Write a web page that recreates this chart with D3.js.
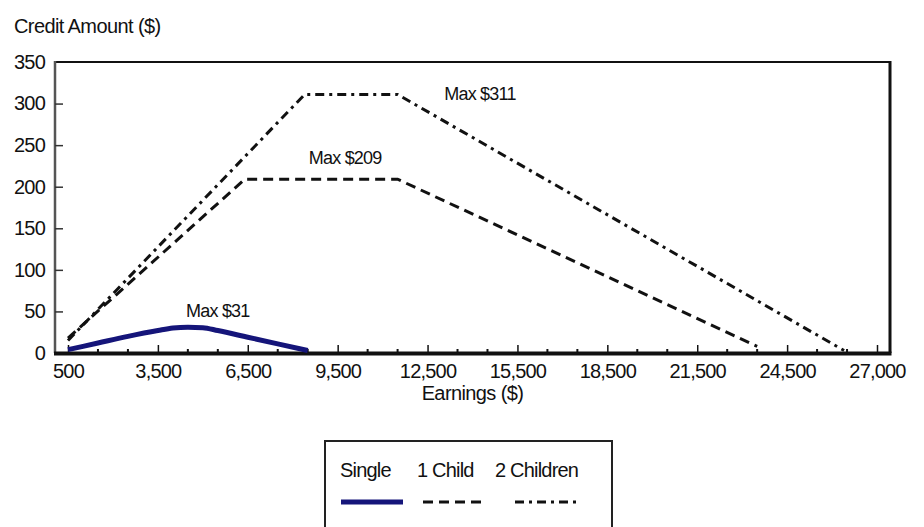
<!DOCTYPE html>
<html>
<head>
<meta charset="utf-8">
<script src="https://cdn.jsdelivr.net/npm/d3@7"></script>
<style>
  body { margin: 0; background: #fff; }
  text { font-family: "Liberation Sans", Arial, sans-serif; fill: #111; }
</style>
</head>
<body>
<svg width="924" height="527"></svg>
<script>
// earnings ($) and credit amount ($)
const singleX = [500, 1500, 2500, 3500, 4000, 4500, 5000, 5500, 6500, 7500, 8500];
const singleY = [4, 12, 20, 27, 30, 31, 30.5, 27, 19, 11, 3];
const oneChildX = [500, 6400, 11500, 23500];
const oneChildY = [18, 209, 209, 8];
const twoChildX = [500, 8400, 11500, 26400];
const twoChildY = [15, 311, 311, 3];

const xTicks = [500, 3500, 6500, 9500, 12500, 15500, 18500, 21500, 24500, 27500];
const xTickLabels = ["500", "3,500", "6,500", "9,500", "12,500", "15,500", "18,500", "21,500", "24,500", "27,000"];
const yTicks = [0, 50, 100, 150, 200, 250, 300, 350];

const seriesNames = ["Single", "1 Child", "2 Children"];
const maxLabels = [
    { text: "Max $31", x: 5500, y: 43 },
    { text: "Max $209", x: 9750, y: 227 },
    { text: "Max $311", x: 14250, y: 304 }
];

const svg = d3.select("svg");
const plotLeft = 55, plotRight = 890, plotTop = 62, plotBottom = 353;

const x = d3.scaleLinear().domain([500, 27500]).range([68, 877]);
const y = d3.scaleLinear().domain([0, 350]).range([plotBottom, plotTop]);

// frame
svg.append("line").attr("x1", plotLeft).attr("x2", plotRight).attr("y1", plotTop).attr("y2", plotTop)
    .attr("stroke", "#111").attr("stroke-width", 2);
svg.append("line").attr("x1", plotRight).attr("x2", plotRight).attr("y1", plotTop - 1).attr("y2", plotBottom)
    .attr("stroke", "#111").attr("stroke-width", 3);
svg.append("line").attr("x1", plotLeft).attr("x2", plotLeft).attr("y1", plotTop - 1).attr("y2", plotBottom)
    .attr("stroke", "#555").attr("stroke-width", 2.5);

// minor x ticks every 1000
const minor = d3.range(1500, 27500, 1000).filter(v => (v - 500) % 3000 !== 0);
svg.append("g").selectAll("line").data(minor).enter().append("line")
    .attr("x1", d => x(d)).attr("x2", d => x(d))
    .attr("y1", plotBottom - 4).attr("y2", plotBottom)
    .attr("stroke", "#111").attr("stroke-width", 2);

// x axis with inward ticks
const xAxis = d3.axisBottom(x).tickValues(xTicks)
    .tickFormat((d, i) => xTickLabels[i]).tickSizeInner(-8).tickSizeOuter(0).tickPadding(11);
const gx = svg.append("g").attr("transform", `translate(0,${plotBottom})`).call(xAxis);
gx.select(".domain").remove();
gx.selectAll(".tick line").attr("stroke", "#111").attr("stroke-width", 1.5);
gx.selectAll("text").style("font-size", "20px").style("letter-spacing", "-0.8px").attr("fill", "#111");
svg.append("line").attr("x1", plotLeft - 1).attr("x2", plotRight + 1.5).attr("y1", plotBottom + 0.5).attr("y2", plotBottom + 0.5)
    .attr("stroke", "#111").attr("stroke-width", 4);

// y axis
const yAxis = d3.axisLeft(y).tickValues(yTicks).tickSizeInner(-8).tickSizeOuter(0).tickPadding(10);
const gy = svg.append("g").attr("transform", `translate(${plotLeft},0)`).call(yAxis);
gy.select(".domain").remove();
gy.selectAll(".tick line").attr("stroke", "#333").attr("stroke-width", 1.5)
    .attr("display", d => (d === 0 || d === 350) ? "none" : null);
gy.selectAll("text").style("font-size", "20px").style("letter-spacing", "-0.8px").attr("fill", "#111");

// titles
svg.append("text").attr("x", 14).attr("y", 33).style("font-size", "20px")
    .style("letter-spacing", "-0.6px").text("Credit Amount ($)");
svg.append("text").attr("x", (plotLeft + plotRight) / 2).attr("y", 400).attr("text-anchor", "middle")
    .style("font-size", "20px").style("letter-spacing", "-0.6px").text("Earnings ($)");

// lines
const line = d3.line().x(d => x(d[0])).y(d => y(d[1]));
const smooth = d3.line().x(d => x(d[0])).y(d => y(d[1])).curve(d3.curveMonotoneX);

svg.append("path").datum(twoChildX.map((v, i) => [v, twoChildY[i]]))
    .attr("d", line).attr("fill", "none").attr("stroke", "#111").attr("stroke-width", 3)
    .attr("stroke-dasharray", "9,5,3,5");
svg.append("path").datum(oneChildX.map((v, i) => [v, oneChildY[i]]))
    .attr("d", line).attr("fill", "none").attr("stroke", "#111").attr("stroke-width", 3)
    .attr("stroke-dasharray", "10,6");
svg.append("path").datum(singleX.map((v, i) => [v, singleY[i]]))
    .attr("d", smooth).attr("fill", "none").attr("stroke", "#15157a").attr("stroke-width", 5);

// max annotations
svg.append("g").selectAll("text").data(maxLabels).enter().append("text")
    .attr("x", d => x(d.x)).attr("y", d => y(d.y)).attr("text-anchor", "middle")
    .style("font-size", "18px").style("letter-spacing", "-0.8px").text(d => d.text);

// legend
const lg = svg.append("g");
lg.append("rect").attr("x", 325).attr("y", 441).attr("width", 287).attr("height", 100)
    .attr("fill", "#fff").attr("stroke", "#222").attr("stroke-width", 2);
const legX = [340, 417, 495];
lg.selectAll("text").data(seriesNames).enter().append("text")
    .attr("x", (d, i) => legX[i]).attr("y", 477)
    .style("font-size", "20px").style("letter-spacing", "-0.8px").text(d => d);
lg.append("line").attr("x1", 341).attr("x2", 403).attr("y1", 502).attr("y2", 502)
    .attr("stroke", "#15157a").attr("stroke-width", 5);
lg.append("line").attr("x1", 423).attr("x2", 481).attr("y1", 502).attr("y2", 502)
    .attr("stroke", "#111").attr("stroke-width", 3).attr("stroke-dasharray", "10,6");
lg.append("line").attr("x1", 515).attr("x2", 580).attr("y1", 502).attr("y2", 502)
    .attr("stroke", "#111").attr("stroke-width", 3).attr("stroke-dasharray", "9,5,3,5");

// source note, cut off at the bottom edge
svg.append("text").attr("x", 18).attr("y", 540).style("font-size", "18px")
    .style("fill", "#bbb").text("Source: CBPP Calculations");
</script>
</body>
</html>
